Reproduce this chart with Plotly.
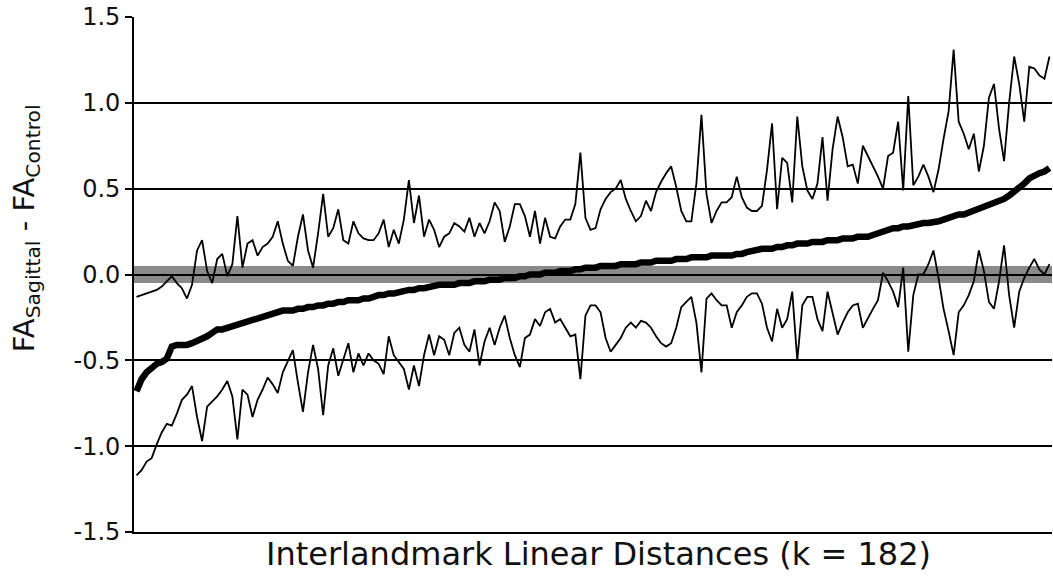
import plotly.graph_objects as go

# Interlandmark linear distances (k = 182), sorted by mean difference
upper = [
    -0.13, -0.12, -0.11, -0.10, -0.09, -0.07, -0.04, -0.01, -0.05, -0.08,
    -0.14, -0.06, 0.14, 0.20, 0.02, -0.05, 0.09, 0.12, -0.01, 0.06,
    0.34, 0.04, 0.18, 0.20, 0.11, 0.16, 0.18, 0.22, 0.31, 0.18,
    0.08, 0.05, 0.22, 0.35, 0.14, 0.04, 0.24, 0.47, 0.22, 0.27,
    0.38, 0.20, 0.18, 0.31, 0.24, 0.21, 0.20, 0.20, 0.24, 0.32,
    0.16, 0.26, 0.18, 0.32, 0.55, 0.30, 0.46, 0.22, 0.32, 0.26,
    0.16, 0.22, 0.24, 0.30, 0.28, 0.25, 0.33, 0.22, 0.30, 0.24,
    0.31, 0.42, 0.37, 0.19, 0.28, 0.41, 0.41, 0.34, 0.22, 0.37,
    0.18, 0.33, 0.22, 0.21, 0.28, 0.32, 0.32, 0.41, 0.71, 0.33,
    0.26, 0.27, 0.38, 0.44, 0.48, 0.50, 0.55, 0.44, 0.37, 0.31,
    0.34, 0.43, 0.37, 0.48, 0.54, 0.59, 0.63, 0.51, 0.37, 0.31,
    0.31, 0.53, 0.93, 0.47, 0.30, 0.37, 0.42, 0.42, 0.45, 0.57,
    0.45, 0.39, 0.37, 0.37, 0.40, 0.61, 0.88, 0.38, 0.68, 0.65,
    0.42, 0.92, 0.63, 0.49, 0.44, 0.53, 0.80, 0.43, 0.73, 0.92,
    0.80, 0.63, 0.64, 0.53, 0.75, 0.69, 0.63, 0.57, 0.50, 0.69,
    0.71, 0.89, 0.49, 1.04, 0.52, 0.57, 0.64, 0.57, 0.48, 0.61,
    0.79, 0.95, 1.31, 0.89, 0.82, 0.73, 0.82, 0.60, 0.75, 1.03,
    1.11, 0.85, 0.66, 1.00, 1.27, 1.11, 0.89, 1.21, 1.20, 1.16,
    1.14, 1.27,
]

lower = [
    -1.17, -1.14, -1.09, -1.07, -0.99, -0.92, -0.87, -0.88, -0.81, -0.73,
    -0.70, -0.65, -0.83, -0.97, -0.77, -0.74, -0.71, -0.67, -0.62, -0.71,
    -0.96, -0.67, -0.70, -0.83, -0.73, -0.67, -0.60, -0.64, -0.69, -0.57,
    -0.50, -0.44, -0.63, -0.80, -0.57, -0.41, -0.55, -0.82, -0.53, -0.43,
    -0.59, -0.49, -0.40, -0.57, -0.46, -0.53, -0.46, -0.50, -0.52, -0.58,
    -0.36, -0.47, -0.51, -0.55, -0.67, -0.53, -0.65, -0.47, -0.35, -0.47,
    -0.36, -0.38, -0.47, -0.34, -0.31, -0.41, -0.45, -0.32, -0.53, -0.39,
    -0.31, -0.41, -0.31, -0.24, -0.37, -0.47, -0.54, -0.37, -0.35, -0.26,
    -0.30, -0.22, -0.20, -0.28, -0.26, -0.31, -0.36, -0.35, -0.61, -0.24,
    -0.18, -0.18, -0.22, -0.37, -0.45, -0.41, -0.37, -0.31, -0.28, -0.31,
    -0.27, -0.28, -0.31, -0.36, -0.40, -0.42, -0.40, -0.31, -0.19, -0.16,
    -0.13, -0.28, -0.57, -0.14, -0.11, -0.15, -0.18, -0.18, -0.31, -0.22,
    -0.18, -0.13, -0.11, -0.11, -0.17, -0.31, -0.39, -0.20, -0.31, -0.26,
    -0.10, -0.50, -0.18, -0.13, -0.13, -0.26, -0.33, -0.10, -0.23, -0.35,
    -0.28, -0.22, -0.18, -0.17, -0.31, -0.25, -0.20, -0.15, 0.01, -0.04,
    -0.10, -0.19, 0.04, -0.45, -0.12, 0.00, 0.00, 0.06, 0.14, -0.02,
    -0.20, -0.33, -0.47, -0.22, -0.18, -0.12, -0.04, 0.14, 0.02, -0.16,
    -0.20, -0.04, 0.17, -0.12, -0.31, -0.10, -0.02, 0.04, 0.09, 0.03,
    0.00, 0.06,
]

mean = [
    -0.68, -0.61, -0.57, -0.54, -0.52, -0.51, -0.49, -0.42, -0.41, -0.41,
    -0.41, -0.40, -0.39, -0.38, -0.36, -0.34, -0.32, -0.32, -0.31, -0.30,
    -0.29, -0.28, -0.27, -0.26, -0.25, -0.24, -0.23, -0.22, -0.22, -0.21,
    -0.21, -0.21, -0.20, -0.20, -0.19, -0.19, -0.18, -0.18, -0.17, -0.17,
    -0.16, -0.16, -0.15, -0.15, -0.15, -0.14, -0.14, -0.13, -0.12, -0.12,
    -0.11, -0.11, -0.10, -0.10, -0.09, -0.09, -0.08, -0.08, -0.07, -0.07,
    -0.06, -0.06, -0.06, -0.06, -0.05, -0.05, -0.05, -0.04, -0.04, -0.04,
    -0.03, -0.03, -0.03, -0.02, -0.02, -0.02, -0.01, -0.01, 0.00, 0.00,
    0.00, 0.01, 0.01, 0.01, 0.02, 0.02, 0.02, 0.03, 0.03, 0.04,
    0.04, 0.04, 0.05, 0.05, 0.05, 0.05, 0.06, 0.06, 0.06, 0.06,
    0.07, 0.07, 0.07, 0.08, 0.08, 0.08, 0.08, 0.09, 0.09, 0.09,
    0.10, 0.10, 0.10, 0.10, 0.11, 0.11, 0.11, 0.11, 0.11, 0.12,
    0.12, 0.13, 0.14, 0.14, 0.15, 0.15, 0.15, 0.16, 0.16, 0.17,
    0.17, 0.18, 0.18, 0.18, 0.19, 0.19, 0.19, 0.20, 0.20, 0.20,
    0.21, 0.21, 0.21, 0.22, 0.22, 0.22, 0.23, 0.24, 0.25, 0.26,
    0.27, 0.27, 0.28, 0.28, 0.29, 0.29, 0.30, 0.30, 0.31, 0.31,
    0.32, 0.33, 0.34, 0.35, 0.35, 0.36, 0.37, 0.38, 0.39, 0.40,
    0.41, 0.43, 0.44, 0.46, 0.48, 0.51, 0.53, 0.56, 0.58, 0.59,
    0.60, 0.62,
]

band_half_width = 0.05
y_ticks = [-1.5, -1.0, -0.5, 0.0, 0.5, 1.0, 1.5]
y_tick_labels = ["-1.5", "-1.0", "-0.5", "0.0", "0.5", "1.0", "1.5"]

x = list(range(len(mean)))
FONT = "DejaVu Sans, Liberation Sans, Arial, sans-serif"

fig = go.Figure()
fig.add_trace(go.Scatter(x=x, y=upper, mode="lines",
                         line=dict(color="black", width=1.8), showlegend=False))
fig.add_trace(go.Scatter(x=x, y=lower, mode="lines",
                         line=dict(color="black", width=1.8), showlegend=False))
fig.add_trace(go.Scatter(x=x, y=mean, mode="lines",
                         line=dict(color="black", width=6.5), showlegend=False))

fig.add_shape(type="rect", xref="paper", x0=0, x1=1, yref="y",
              y0=-band_half_width, y1=band_half_width,
              fillcolor="#8a8a8a", line=dict(width=0), layer="below")

fig.update_layout(
    width=1053, height=582,
    margin=dict(l=134, r=1, t=17, b=50),
    paper_bgcolor="white", plot_bgcolor="white",
    font=dict(family=FONT, color="black"),
    xaxis=dict(range=[-0.5, len(mean) - 0.5], showgrid=False, zeroline=False,
               showticklabels=False, ticks="", showline=True,
               linecolor="black", linewidth=1.8),
    yaxis=dict(range=[-1.5, 1.5], tickvals=y_ticks, ticktext=y_tick_labels,
               showgrid=True, gridcolor="black", gridwidth=1.8,
               zeroline=False, showline=True, linecolor="black", linewidth=1.8,
               ticks="outside", ticklen=7, tickwidth=1.8, tickcolor="black",
               tickfont=dict(size=24, family=FONT, color="#111111"),
               ticklabelstandoff=0),
    annotations=[
        dict(text="FA<sub>Sagittal</sub> - FA<sub>Control</sub>",
             xref="paper", yref="paper", x=(26 - 134) / 918, y=0.59,
             xanchor="center", yanchor="middle", textangle=-90,
             showarrow=False, font=dict(size=29, family=FONT, color="#111111")),
        dict(text="Interlandmark Linear Distances (k = 182)",
             xref="paper", yref="paper", x=0.5065, y=-0.042,
             xanchor="center", yanchor="middle",
             showarrow=False, font=dict(size=32, family=FONT, color="#111111")),
    ],
)

fig.write_html("out.html")
